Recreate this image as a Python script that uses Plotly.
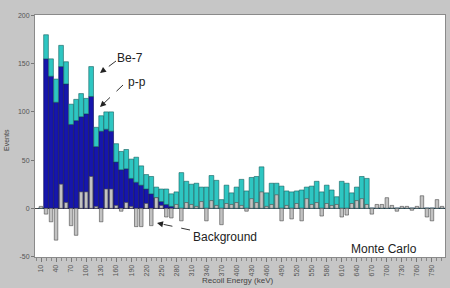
import plotly.graph_objects as go

# Recoil energy bins (keV)
energy_kev = [10, 20, 30, 40, 50, 60, 70, 80, 90, 100,
              110, 120, 130, 140, 150, 160, 170, 180, 190, 200,
              210, 220, 230, 240, 250, 260, 270, 280, 290, 300,
              310, 320, 330, 340, 350, 360, 370, 380, 390, 400,
              410, 420, 430, 440, 450, 460, 470, 480, 490, 500,
              510, 520, 530, 540, 550, 560, 570, 580, 590, 600,
              610, 620, 630, 640, 650, 660, 670, 680, 690, 700,
              710, 720, 730, 740, 750, 760, 770, 780, 790, 800, 810]

pp_events = [0, 155, 137, 110, 147, 129, 87, 91, 95, 98,
             116, 64, 80, 82, 80, 48, 40, 41, 31, 27,
             24, 20, 15, 11, 7, 4, 2, 0, 0, 0,
             0, 0, 0, 0, 0, 0, 0, 0, 0, 0,
             0, 0, 0, 0, 0, 0, 0, 0, 0, 0,
             0, 0, 0, 0, 0, 0, 0, 0, 0, 0,
             0, 0, 0, 0, 0, 0, 0, 0, 0, 0,
             0, 0, 0, 0, 0, 0, 0, 0, 0, 0, 0]

be7_events = [0, 25, 18, 24, 22, 23, 21, 22, 24, 16,
              31, 20, 16, 18, 20, 19, 19, 20, 20, 26,
              20, 15, 18, 11, 13, 16, 13, 17, 37, 28,
              25, 26, 22, 22, 34, 29, 9, 24, 16, 22,
              30, 18, 32, 33, 43, 16, 26, 26, 23, 18,
              17, 18, 19, 22, 23, 28, 17, 24, 19, 12,
              28, 26, 16, 22, 33, 31, 0, 0, 0, 0,
              0, 0, 0, 0, 0, 0, 0, 0, 0, 0, 0]

background_events = [2, -6, -14, -33, 25, 6, -18, -28, 17, 17,
                     33, 2, -14, 20, 20, 3, -3, 6, 2, -19,
                     -19, 5, -18, 11, 3, -9, -10, 4, -13, 6,
                     4, 2, 7, -13, 8, 3, -17, 5, 4, 6,
                     3, -3, 10, 6, 17, 2, 4, 14, -13, 3,
                     -11, 5, -13, 10, 4, 6, -8, 5, 3, 4,
                     -9, -7, 5, 8, 10, 4, -6, 4, 4, 11,
                     3, -3, 2, 2, -2, 2, 13, -9, -13, 9, 2]

tick_values = [10, 40, 70, 100, 130, 160, 190, 220, 250, 280, 310, 340, 370, 400,
               430, 460, 490, 520, 550, 580, 610, 640, 670, 700, 730, 760, 790]
tick_labels = [str(v) for v in tick_values]
y_ticks = [-50, 0, 50, 100, 150, 200]

FONT = "Liberation Sans, Arial, sans-serif"
W, H = 450, 288
ML, MR, MT, MB = 35, 5, 15, 31
PW, PH = W - ML - MR, H - MT - MB


def px(x, y):
    return (x - ML) / PW, 1 - (y - MT) / PH


fig = go.Figure()
fig.add_trace(go.Bar(x=energy_kev, y=pp_events, base=0, name="p-p",
                     marker=dict(color="#1616ac", line=dict(color="#0a0a50", width=0.6)),
                     width=9.4))
fig.add_trace(go.Bar(x=energy_kev, y=be7_events, base=pp_events, name="Be-7",
                     marker=dict(color="#2ec6c2", line=dict(color="#14605e", width=0.6)),
                     width=9.4))
fig.add_trace(go.Bar(x=energy_kev, y=background_events, name="Background",
                     marker=dict(color="#c2c2c2", line=dict(color="#4a4a4a", width=0.6)),
                     width=7))

shapes = []
annotations = []


def text(s, x, y, size=12, color="#222222", angle=0):
    xp, yp = px(x, y)
    annotations.append(dict(text=s, x=xp, y=yp, xref="paper", yref="paper",
                             showarrow=False, textangle=angle,
                             font=dict(family=FONT, size=size, color=color),
                             xanchor="center", yanchor="middle"))


def arrow(tail, head):
    (tx, ty), (hx, hy) = tail, head
    dx, dy = tx - hx, ty - hy
    L = (dx * dx + dy * dy) ** 0.5
    ux, uy = dx / L, dy / L
    x0, y0 = px(tx, ty)
    x1, y1 = px(hx + ux * 4, hy + uy * 4)
    shapes.append(dict(type="line", xref="paper", yref="paper", x0=x0, y0=y0, x1=x1, y1=y1,
                       line=dict(color="#333333", width=1, dash="dash")))
    hxp, hyp = px(hx, hy)
    annotations.append(dict(text="", x=hxp, y=hyp, xref="paper", yref="paper",
                             showarrow=True, ax=ux * 7, ay=uy * 7,
                             arrowhead=2, arrowsize=1, arrowwidth=1.2, arrowcolor="#222222"))


text("Be-7", 130, 58)
text("p-p", 137, 82)
text("Background", 225, 237)
text("Monte Carlo", 384, 249)
text("Events", 6, 140, size=7, color="#444444", angle=-90)
text("Recoil Energy (keV)", 237, 280, size=8, color="#444444")
arrow((116, 61), (100, 73))
arrow((123, 85), (100, 107))
arrow((190, 230), (157, 223))

fig.update_layout(
    width=W, height=H, autosize=False,
    margin=dict(l=ML, r=MR, t=MT, b=MB),
    paper_bgcolor="#c6c6c6", plot_bgcolor="#ffffff",
    barmode="overlay", bargap=0, showlegend=False,
    font=dict(family=FONT, size=7, color="#555555"),
    shapes=shapes, annotations=annotations,
    xaxis=dict(range=[-2, 816], tickmode="array", tickvals=tick_values, ticktext=tick_labels,
               tickangle=-90, tickfont=dict(size=7, color="#555555"), automargin=False,
               ticks="outside", ticklen=4, tickcolor="#777777",
               minor=dict(dtick=10, tick0=10, ticks="outside", ticklen=3, tickcolor="#888888"),
               showline=True, linecolor="#8a8a8a", linewidth=1, mirror=True,
               showgrid=False, zeroline=False),
    yaxis=dict(range=[-50.5, 200.5], tickmode="array", tickvals=y_ticks,
               ticktext=[str(v) for v in y_ticks], automargin=False,
               tickfont=dict(size=7, color="#555555"),
               ticks="outside", ticklen=3, tickcolor="#777777",
               showline=True, linecolor="#8a8a8a", linewidth=1, mirror=True,
               showgrid=False, zeroline=True, zerolinecolor="#444444", zerolinewidth=1),
)

fig.write_html("out.html",
               config={"displayModeBar": False, "staticPlot": True},
               post_script="document.body.style.margin='0';document.body.style.padding='0';"
                           "document.body.style.overflow='hidden';")
